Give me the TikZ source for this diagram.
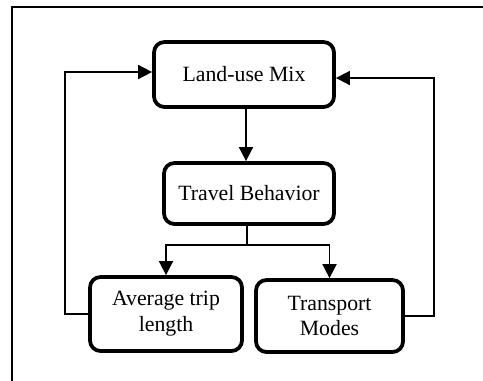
\documentclass[tikz,border=0pt]{standalone}
\usepackage{fontspec}
\setmainfont{Liberation Serif}
\usetikzlibrary{arrows.meta}
\tikzset{
    boxnode/.style={draw, line width=3.2pt, rounded corners=9pt, align=center,
        font=\fontsize{18.6}{22}\selectfont, inner sep=0pt},
    arr/.style={line width=1.4pt, -{Triangle[length=12pt,width=12pt]}},
    wire/.style={line width=1.4pt}
}
\begin{document}
\begin{tikzpicture}[x=0.03cm, y=-0.03cm]
    \useasboundingbox (0,0) rectangle (483,380);

    % Outer frame
    \draw[line width=2.4pt] (12,381) -- (12,7) -- (484,7);

    % Boxes
    \node[boxnode, minimum width=180*0.03cm, minimum height=65*0.03cm] (land) at (244,74.5) {Land-use Mix};
    \node[boxnode, minimum width=170*0.03cm, minimum height=61*0.03cm] (travel) at (249,193.5) {Travel Behavior};
    \node[boxnode, minimum width=152*0.03cm, minimum height=74*0.03cm] (avg) at (166,314) {Average trip\\length};
    \node[boxnode, minimum width=147*0.03cm, minimum height=72*0.03cm] (modes) at (329.5,316) {Transport\\Modes};

    % Land-use to behavior
    \draw[arr] (land.south -| 246,0) -- (travel.north -| 246,0);

    % Behavior splits
    \coordinate (split) at (247,245);
    \draw[wire] (travel.south -| split) -- (split);
    \draw[arr] (split) -| (avg.north);
    \draw[arr] (split) -| (modes.north);

    % Feedback loops
    \coordinate (lback) at (65,72);
    \coordinate (rback) at (434,78);
    \draw[arr] (avg.west) -| (lback) -- (lback -| land.west);
    \draw[arr] (modes.east) -| (rback) -- (rback -| land.east);
\end{tikzpicture}
\end{document}
